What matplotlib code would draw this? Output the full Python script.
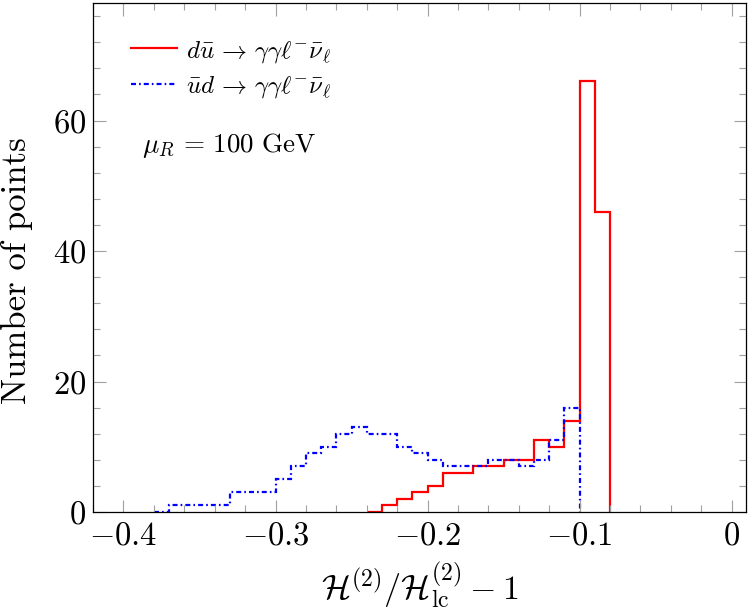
import numpy as np
import matplotlib
matplotlib.use("Agg")
import matplotlib.pyplot as plt
from matplotlib.ticker import MultipleLocator, FixedLocator, FixedFormatter

# histogram counts, bin width 0.01
bin_width = 0.01
du_start = -0.24
du_counts = [0, 1, 2, 3, 4, 6, 6, 7, 7, 8, 8, 11, 10, 14, 66, 46]
ud_start = -0.38
ud_counts = [0, 1, 1, 1, 1, 3, 3, 3, 5, 7, 9, 10, 12, 13, 12, 12,
             10, 9, 8, 7, 7, 7, 8, 8, 7, 8, 11, 16]

du_label = r'$d\bar{u}\,\to\,\gamma\gamma\ell^{-}\bar{\nu}_{\ell}$'
ud_label = r'$\bar{u}d\,\to\,\gamma\gamma\ell^{-}\bar{\nu}_{\ell}$'
scale_text = r'$\mu_R\,=\,100\ \mathrm{GeV}$'

xticks = [-0.4, -0.3, -0.2, -0.1, 0.0]
xticklabels = [r'$-0.4$', r'$-0.3$', r'$-0.2$', r'$-0.1$', r'$0$']
yticks = [0, 20, 40, 60]
yticklabels = [r'$0$', r'$20$', r'$40$', r'$60$']

plt.rcParams['font.family'] = 'serif'
plt.rcParams['font.serif'] = ['cmr10']
plt.rcParams['mathtext.fontset'] = 'cm'
plt.rcParams['lines.scale_dashes'] = False

fig = plt.figure(figsize=(7.49, 6.11), dpi=100)
ax = fig.add_axes([0.1242, 0.162, 0.8718, 0.833])

du_edges = du_start + bin_width * np.arange(len(du_counts) + 1)
ud_edges = ud_start + bin_width * np.arange(len(ud_counts) + 1)

ax.stairs(du_counts, du_edges, color='red', lw=1.6, label=du_label, baseline=0)
ax.stairs(ud_counts, ud_edges, color='blue', lw=1.6, label=ud_label, baseline=0,
          linestyle=(0, (3.6, 2.2, 1.2, 2.2)))

ax.set_xlim(-0.42, 0.0094)
ax.set_ylim(0, 78)

ax.xaxis.set_major_locator(FixedLocator(xticks))
ax.xaxis.set_major_formatter(FixedFormatter(xticklabels))
ax.xaxis.set_minor_locator(MultipleLocator(0.02))
ax.yaxis.set_major_locator(FixedLocator(yticks))
ax.yaxis.set_major_formatter(FixedFormatter(yticklabels))
ax.yaxis.set_minor_locator(MultipleLocator(4))

ax.tick_params(which='both', direction='in', top=True, right=True,
               color='#a0a0a0', labelsize=23.5)
ax.tick_params(axis='x', pad=7)
ax.tick_params(axis='y', pad=5)
ax.tick_params(which='major', length=9, width=0.8)
ax.tick_params(which='minor', length=5, width=0.8)
for s in ax.spines.values():
    s.set_linewidth(0.9)

ax.set_xlabel(r'$\mathcal{H}^{(2)}/\mathcal{H}^{(2)}_{\mathrm{lc}} - 1$', fontsize=24.5, labelpad=7)
ax.set_ylabel('Number of points', fontsize=25)
ax.yaxis.set_label_coords(-0.092, 0.475)

ax.legend(loc='upper left', bbox_to_anchor=(0.043, 0.950), frameon=False,
          fontsize=18, handlelength=1.85, handletextpad=0.33, labelspacing=0.38,
          borderaxespad=0)
ax.text(0.075, 0.721, scale_text, transform=ax.transAxes, fontsize=19.5, va='center')

fig.savefig('out.png', dpi=100)
